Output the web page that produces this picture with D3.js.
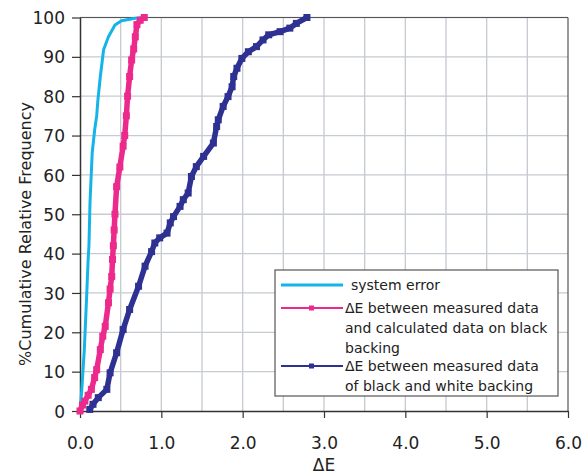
<!DOCTYPE html>
<html>
<head>
<meta charset="utf-8">
<script src="https://cdn.jsdelivr.net/npm/d3@7"></script>
<style>
  html, body { margin: 0; padding: 0; background: #fff; }
  svg { display: block; }
  text { font-family: "DejaVu Sans", Verdana, sans-serif; fill: #222; }
</style>
</head>
<body>
<svg id="chart" width="585" height="474"></svg>
<script>
// ---- data (ΔE, %cumulative) ----
const seriesNames = [
  "system error",
  "ΔE between measured data and calculated data on black backing",
  "ΔE between measured data of black and white backing"
];
const systemError = [
  [0.00,0],[0.02,4.7],[0.053,15.6],[0.08,28.3],[0.10,38.5],[0.11,42],[0.123,53],
  [0.15,65.6],[0.18,71.4],[0.205,75],[0.22,79],[0.25,85],[0.29,91.8],[0.35,95.1],
  [0.43,98.1],[0.51,99.2],[0.68,99.8],[0.78,100]
];
const blackBacking = [
  [0.00,0],[0.03,1.5],[0.06,2.5],[0.10,4],[0.14,5.5],[0.18,8.5],[0.205,10.5],
  [0.25,15.6],[0.28,19],[0.31,21.5],[0.35,27.5],[0.37,31],[0.39,34.2],[0.40,38.5],
  [0.41,42],[0.42,46],[0.43,50],[0.45,57],[0.49,62],[0.53,67.3],[0.55,70],
  [0.57,75],[0.585,80],[0.61,85],[0.635,89.2],[0.66,92],[0.68,95.1],[0.70,98.2],
  [0.74,99.3],[0.79,100]
];
const blackWhite = [
  [0.12,0.4],[0.16,1.7],[0.225,3.4],[0.33,5.5],[0.37,9.7],[0.45,14.8],[0.53,20.7],
  [0.61,25.8],[0.72,31.7],[0.80,36.8],[0.88,40.5],[0.92,42.7],[0.98,44],[1.07,45.2],
  [1.11,47.8],[1.15,49.4],[1.23,52],[1.27,53.7],[1.33,55.4],[1.37,59.6],[1.43,62.1],
  [1.52,64.7],[1.64,68.1],[1.68,72.3],[1.70,74],[1.76,77.4],[1.82,79.9],[1.87,82.4],
  [1.89,85],[1.93,87.1],[1.99,89.6],[2.07,91.3],[2.17,92.6],[2.25,94.3],[2.32,95.6],
  [2.46,96.4],[2.58,97.3],[2.66,98.5],[2.79,100]
];
const xTicks = [0,1,2,3,4,5,6];
const xGrid = [0.5,1,1.5,2,2.5,3,3.5,4,4.5,5,5.5];
const yTicks = [0,10,20,30,40,50,60,70,80,90,100];
const xTitle = "ΔE";
const yTitle = "%Cumulative Relative Frequency";

const colors = ["#14b4e8", "#ec2a8c", "#2e3192"];

// ---- layout ----
const svg = d3.select("#chart");
const L = 80, R = 568, T = 17.5, B = 411;
const x = d3.scaleLinear().domain([0, 6]).range([L, R]);
const y = d3.scaleLinear().domain([0, 100]).range([B, T]);

// grid
const g = svg.append("g");
g.selectAll("line.vg").data(xGrid).join("line")
  .attr("x1", d => x(d)).attr("x2", d => x(d)).attr("y1", T).attr("y2", B)
  .attr("stroke", "#c6cad1").attr("stroke-width", 1.3);
g.selectAll("line.hg").data(yTicks.slice(1)).join("line")
  .attr("x1", L).attr("x2", R).attr("y1", d => y(d)).attr("y2", d => y(d))
  .attr("stroke", "#c6cad1").attr("stroke-width", 1.3);

// plot border (top/right)
svg.append("line").attr("x1", L).attr("x2", R).attr("y1", T).attr("y2", T)
  .attr("stroke", "#555").attr("stroke-width", 1.2);
svg.append("line").attr("x1", R).attr("x2", R).attr("y1", T).attr("y2", B)
  .attr("stroke", "#555").attr("stroke-width", 1.2);

// axes
const xAxis = svg.append("g").attr("transform", `translate(0,${B})`)
  .call(d3.axisBottom(x).tickValues(xTicks).tickFormat(d3.format(".1f")).tickSize(7).tickSizeOuter(0));
const yAxis = svg.append("g").attr("transform", `translate(${L},0)`)
  .call(d3.axisLeft(y).tickValues(yTicks).tickSize(8).tickSizeOuter(0));
[xAxis, yAxis].forEach(a => {
  a.select(".domain").attr("stroke", "#333").attr("stroke-width", 1.5);
  a.selectAll(".tick line").attr("stroke", "#333").attr("stroke-width", 1.2);
  a.selectAll(".tick text").attr("font-size", 17).attr("fill", "#222")
    .attr("font-family", '"DejaVu Sans", Verdana, sans-serif');
});
xAxis.selectAll(".tick text").attr("dy", "0").attr("y", 38);
yAxis.selectAll(".tick text").attr("x", -15).attr("dy", "0.36em");

// titles
svg.append("text").attr("x", (L + R) / 2).attr("y", 471).attr("text-anchor", "middle")
  .attr("font-size", 17).text(xTitle);
svg.append("text").attr("transform", `translate(31,234) rotate(-90)`)
  .attr("text-anchor", "middle").attr("font-size", 16).text(yTitle);

// series
const line = d3.line().x(d => x(d[0])).y(d => y(d[1]));
const plot = svg.append("g");
plot.append("path").datum(systemError).attr("d", line)
  .attr("fill", "none").attr("stroke", colors[0]).attr("stroke-width", 3)
  .attr("stroke-linejoin", "round");
[[blackBacking, colors[1]], [blackWhite, colors[2]]].forEach(([data, c]) => {
  plot.append("path").datum(data).attr("d", line)
    .attr("fill", "none").attr("stroke", c).attr("stroke-width", 5.5)
    .attr("stroke-linejoin", "round");
  plot.selectAll(null).data(data).join("rect")
    .attr("x", d => x(d[0]) - 3.5).attr("y", d => y(d[1]) - 3.5)
    .attr("width", 7).attr("height", 7).attr("fill", c);
});

// legend
const lg = svg.append("g");
lg.append("rect").attr("x", 275).attr("y", 270).attr("width", 283).attr("height", 126)
  .attr("fill", "#fff").attr("stroke", "#555").attr("stroke-width", 1.2);
const legendRows = [
  { lines: ["system error"], y: 285, tx: 351, color: colors[0], w: 3, marker: false },
  { lines: ["ΔE between measured data", "and calculated data on black", "backing"], y: 308, tx: 345, color: colors[1], w: 2, marker: true },
  { lines: ["ΔE between measured data", "of black and white backing"], y: 366, tx: 345, color: colors[2], w: 2, marker: true }
];
legendRows.forEach(r => {
  lg.append("line").attr("x1", 281).attr("x2", 343).attr("y1", r.y).attr("y2", r.y)
    .attr("stroke", r.color).attr("stroke-width", r.w);
  if (r.marker) {
    lg.append("rect").attr("x", 309).attr("y", r.y - 2.5).attr("width", 5).attr("height", 5)
      .attr("fill", r.color);
  }
  r.lines.forEach((t, i) => {
    lg.append("text").attr("x", r.tx).attr("y", r.y + i * 20).attr("dy", "0.36em")
      .attr("font-size", 14).text(t);
  });
});
</script>
</body>
</html>
